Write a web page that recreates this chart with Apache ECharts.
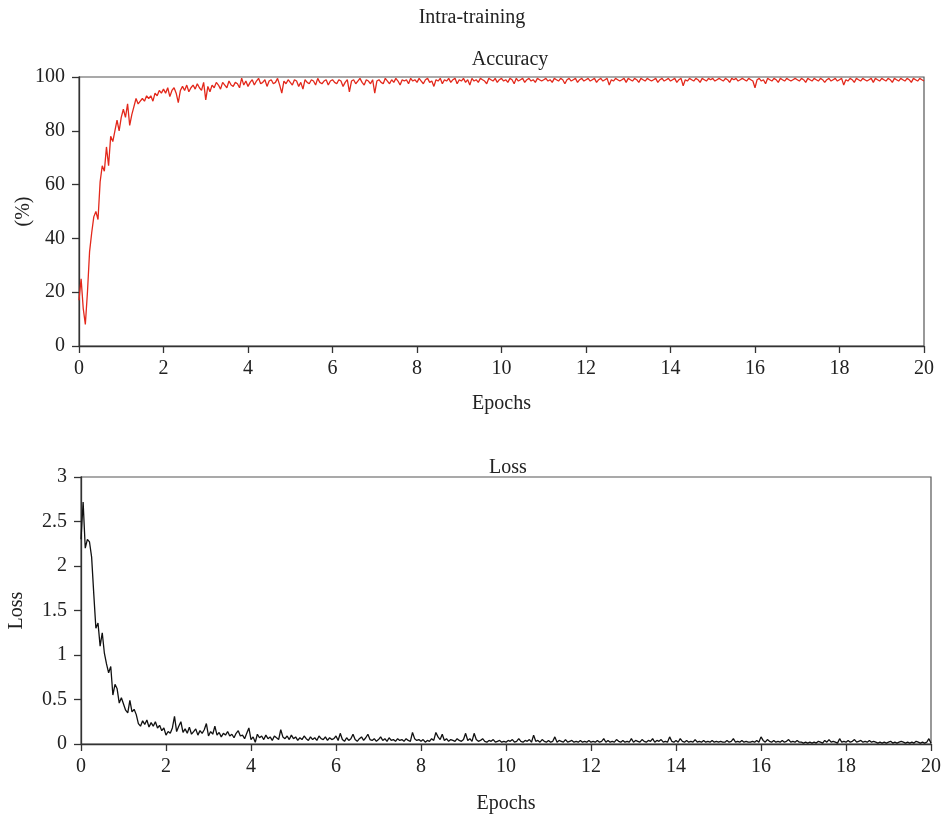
<!DOCTYPE html>
<html>
<head>
<meta charset="utf-8">
<script src="https://cdn.jsdelivr.net/npm/echarts@6/dist/echarts.min.js"></script>
<style>html,body{margin:0;padding:0;background:#fff;}#c{width:944px;height:818px;}</style>
</head>
<body>
<div id="c"></div>
<script>
// Sampling step of the curves (epochs between consecutive values)
const EPOCH_STEP = 0.05;
const xTicks = [0, 2, 4, 6, 8, 10, 12, 14, 16, 18, 20];
const accTicks = [0, 20, 40, 60, 80, 100];
const lossTicks = [0, 0.5, 1, 1.5, 2, 2.5, 3];

// Accuracy (%), one value every 0.05 epoch
const accuracy = [
  17, 25, 14, 8, 20, 35, 42, 48, 50, 47, 61, 67, 65, 74, 67, 78, 76, 80, 84, 80,
  85, 88, 85, 90, 82, 86, 89, 92, 90, 91, 92, 91, 93, 92, 93, 91, 94, 93, 95, 94,
  95.5, 94, 96, 92.7, 95, 96, 94, 90.5, 95, 96.5, 95, 97, 94.5, 96, 97, 95.5, 97.5, 96, 95, 98,
  91.5, 96.5, 94.5, 97, 96, 98, 97, 95.5, 98, 97, 96, 98.5, 97, 96.5, 98, 97.5, 96, 99.6, 97, 98.5,
  96.5, 98, 99, 97, 98.5, 99.5, 97.5, 98, 99, 96.5, 98.5, 99, 97.5, 98, 99.5, 97, 94, 98.5, 97.5, 99,
  98, 97, 99, 98.5, 96.5, 98, 95.5, 99, 98, 97.5, 99, 98.5, 97, 99.5, 98, 97.5, 98.5, 99, 97, 98.5,
  99, 98, 97.5, 99, 98.5, 96.5, 98, 99, 94.5, 98.5, 99, 97.5, 98.5, 99.5, 98, 97, 99, 98.5, 97.5, 99,
  94, 98.5, 99, 98, 97.5, 99.5, 98.5, 97.5, 99, 98, 99.5, 98.5, 97, 99, 98.5, 99, 97.5, 99.5, 98.5, 99,
  98, 99.5, 98.5, 97.5, 99, 99.5, 98, 98.5, 96.5, 99, 98.5, 99.5, 97.5, 99, 98.5, 99.5, 98, 99, 99.5, 97.5,
  99, 98.5, 99.5, 98, 99, 97, 99.5, 98.5, 99, 98, 99.5, 99, 98.5, 97.5, 99.5, 99, 98.5, 99.5, 98, 99,
  99.5, 98.5, 99, 98, 99.5, 99, 97.5, 99.5, 98.5, 99, 99.5, 98, 99, 99.5, 98.5, 99, 98, 99.5, 99, 98.5,
  99, 99.5, 98.5, 99, 98, 99.5, 99, 98.5, 99.5, 99, 97.5, 99, 99.5, 98.5, 99, 99.5, 98, 99, 99.5, 98.5,
  99, 99.5, 98.5, 99, 99.5, 98, 99, 99.5, 98.5, 99, 99.5, 97, 99, 98.5, 99.5, 99, 98.5, 99, 99.5, 98,
  99.5, 99, 98.5, 99.5, 99, 98, 99.5, 99, 98.5, 99.5, 99, 98.5, 99, 99.5, 98, 99, 99.5, 98.5, 99, 99.5,
  98.5, 99, 99.5, 98, 99, 99.5, 96.7, 99, 98.5, 99.5, 99, 98.5, 99.5, 99, 98, 99.5, 99, 98.5, 99.5, 99,
  99.5, 98.5, 99, 99.5, 99, 98.5, 99.5, 99, 98, 99.5, 99, 99.5, 98.5, 99, 99.5, 99, 98.5, 99.5, 99, 98.5,
  96, 99, 99.5, 98.5, 99, 97.5, 99.5, 99, 98.5, 99.5, 99, 98, 99.5, 99, 98.5, 99.5, 99, 98.5, 99, 99.5,
  99, 98.5, 99.5, 99, 98, 99.5, 99, 98.5, 99.5, 99, 98.5, 99.5, 99, 98, 99, 99.5, 98.5, 99, 99.5, 98.5,
  99, 99.5, 97, 99, 98.5, 99.5, 99, 98, 99.5, 99, 98.5, 99.5, 99, 98.5, 99, 99.5, 98, 99.5, 99, 98.5,
  99.5, 99, 98.5, 99.5, 99, 98, 99.5, 99, 98.5, 99.5, 99, 98.5, 99.5, 99, 98, 99.5, 99, 98.5, 99.5, 99, 98.5
];

// Loss, one value every 0.05 epoch
const loss = [
  2.3, 2.72, 2.2, 2.3, 2.27, 2.1, 1.69, 1.3, 1.36, 1.1, 1.25, 1.02, 0.9, 0.8, 0.87, 0.55, 0.67, 0.62, 0.46, 0.52,
  0.45, 0.38, 0.35, 0.49, 0.36, 0.39, 0.33, 0.23, 0.2, 0.26, 0.22, 0.27, 0.19, 0.24, 0.2, 0.25, 0.18, 0.21, 0.15, 0.18,
  0.1, 0.14, 0.12, 0.18, 0.31, 0.14, 0.2, 0.25, 0.13, 0.17, 0.12, 0.19, 0.11, 0.14, 0.17, 0.1, 0.15, 0.12, 0.16, 0.23,
  0.09, 0.14, 0.11, 0.2, 0.1, 0.13, 0.08, 0.12, 0.1, 0.14, 0.09, 0.11, 0.07, 0.12, 0.15, 0.09, 0.1, 0.06, 0.12, 0.18,
  0.05, 0.08, 0.02, 0.11, 0.07, 0.09, 0.05, 0.1, 0.06, 0.08, 0.04, 0.09, 0.07, 0.05, 0.16, 0.08, 0.06, 0.09, 0.05, 0.1,
  0.06, 0.08, 0.04, 0.07, 0.05, 0.09, 0.06, 0.04, 0.08, 0.05, 0.07, 0.04, 0.09, 0.06, 0.05, 0.08, 0.04, 0.07, 0.05, 0.06,
  0.09, 0.04, 0.12, 0.05, 0.03, 0.07, 0.04, 0.06, 0.11, 0.05, 0.03, 0.06, 0.08, 0.04, 0.07, 0.11, 0.05, 0.04, 0.06, 0.03,
  0.05, 0.08, 0.04, 0.06, 0.03, 0.07, 0.04, 0.05, 0.03, 0.06, 0.04, 0.05, 0.03, 0.06, 0.04, 0.03, 0.13, 0.06, 0.04, 0.05,
  0.03, 0.05, 0.02, 0.04, 0.03, 0.06, 0.04, 0.13, 0.08, 0.05, 0.11, 0.04, 0.06, 0.03, 0.05, 0.04, 0.03, 0.06, 0.04, 0.03,
  0.05, 0.12, 0.04, 0.06, 0.03, 0.12, 0.05, 0.03, 0.04, 0.06, 0.03, 0.02, 0.04, 0.03, 0.05, 0.02, 0.03, 0.04, 0.02, 0.03,
  0.02, 0.04, 0.03, 0.05, 0.02, 0.03, 0.06, 0.03, 0.02, 0.04, 0.03, 0.05, 0.02, 0.1, 0.03, 0.04, 0.02, 0.05, 0.03, 0.02,
  0.04, 0.02, 0.03, 0.08, 0.02, 0.04, 0.03, 0.02, 0.05, 0.02, 0.03, 0.04, 0.02, 0.03, 0.02, 0.04, 0.02, 0.03, 0.02, 0.04,
  0.02, 0.03, 0.02, 0.04, 0.02, 0.03, 0.06, 0.02, 0.04, 0.02, 0.03, 0.02, 0.05, 0.03, 0.02, 0.04, 0.02, 0.03, 0.02, 0.06,
  0.02, 0.04, 0.03, 0.02, 0.05, 0.03, 0.02, 0.04, 0.03, 0.06, 0.02, 0.04, 0.03, 0.05, 0.02, 0.03, 0.02, 0.08, 0.03, 0.02,
  0.04, 0.02, 0.06, 0.03, 0.02, 0.04, 0.02, 0.03, 0.02, 0.05, 0.02, 0.03, 0.02, 0.04, 0.02, 0.03, 0.02, 0.04, 0.02, 0.03,
  0.02, 0.03, 0.02, 0.02, 0.04, 0.02, 0.03, 0.06, 0.02, 0.03, 0.02, 0.04, 0.02, 0.03, 0.02, 0.02, 0.03, 0.02, 0.04, 0.02,
  0.08, 0.04, 0.02, 0.05, 0.03, 0.02, 0.04, 0.02, 0.03, 0.02, 0.04, 0.02, 0.03, 0.05, 0.02, 0.03, 0.02, 0.04, 0.02, 0.02,
  0.01, 0.02, 0.01, 0.02, 0.01, 0.02, 0.01, 0.03, 0.02, 0.01, 0.04, 0.02, 0.05, 0.02, 0.03, 0.02, 0.01, 0.06, 0.02, 0.03,
  0.02, 0.04, 0.02, 0.03, 0.05, 0.02, 0.03, 0.04, 0.02, 0.03, 0.02, 0.04, 0.02, 0.03, 0.02, 0.01, 0.02, 0.01, 0.02, 0.01,
  0.02, 0.03, 0.01, 0.02, 0.01, 0.02, 0.03, 0.02, 0.01, 0.02, 0.01, 0.02, 0.01, 0.03, 0.02, 0.01, 0.02, 0.01, 0.02, 0.06, 0.01
];

const FONT = '"Liberation Serif", "DejaVu Serif", serif';
const AX = '#333';
const toPairs = arr => arr.map((v, i) => [+(i * EPOCH_STEP).toFixed(2), v]);

function xAxisCfg(gridIndex, gap) {
  return {
    type: 'value', gridIndex, min: xTicks[0], max: xTicks[xTicks.length - 1],
    interval: xTicks[1] - xTicks[0],
    name: 'Epochs', nameLocation: 'middle', nameGap: gap,
    nameTextStyle: { fontFamily: FONT, fontSize: 20, color: '#222' },
    axisLine: { show: true, lineStyle: { color: AX, width: 1.3 } },
    axisTick: { show: true, inside: false, length: 7, lineStyle: { color: AX, width: 1.3 } },
    axisLabel: { fontFamily: FONT, fontSize: 20, color: '#222', margin: 13 },
    splitLine: { show: false }
  };
}
function yAxisCfg(gridIndex, ticks, name, gap) {
  return {
    type: 'value', gridIndex, min: ticks[0], max: ticks[ticks.length - 1],
    interval: ticks[1] - ticks[0],
    name, nameLocation: 'middle', nameGap: gap, nameRotate: 90, nameMoveOverlap: false,
    nameTextStyle: { fontFamily: FONT, fontSize: 20, color: '#222' },
    axisLine: { show: true, lineStyle: { color: AX, width: 1.3 } },
    axisTick: { show: true, inside: false, length: 7, lineStyle: { color: AX, width: 1.3 } },
    axisLabel: { fontFamily: FONT, fontSize: 20, color: '#222', margin: 14 },
    splitLine: { show: false }
  };
}

const chart = echarts.init(document.getElementById('c'), null, { renderer: 'canvas' });
chart.setOption({
  animation: false,
  backgroundColor: '#fff',
  title: [
    { text: 'Intra-training', left: 'center', top: 3, textStyle: { fontFamily: FONT, fontSize: 20, fontWeight: 'normal', color: '#222' } },
    { text: 'Accuracy', left: 505, top: 45, textAlign: 'center', textStyle: { fontFamily: FONT, fontSize: 20, fontWeight: 'normal', color: '#222' } },
    { text: 'Loss', left: 503, top: 453, textAlign: 'center', textStyle: { fontFamily: FONT, fontSize: 20, fontWeight: 'normal', color: '#222' } }
  ],
  grid: [
    { left: 79, right: 20, top: 77, height: 269, show: true, borderColor: '#555', borderWidth: 1.2,
      backgroundColor: 'transparent', containLabel: false, outerBoundsMode: 'none' },
    { left: 81, right: 13, top: 477, height: 267, show: true, borderColor: '#555', borderWidth: 1.2,
      backgroundColor: 'transparent', containLabel: false, outerBoundsMode: 'none' }
  ],
  xAxis: [xAxisCfg(0, 48), xAxisCfg(1, 50)],
  yAxis: [yAxisCfg(0, accTicks, '(%)', 45), yAxisCfg(1, lossTicks, 'Loss', 54)],
  series: [
    { type: 'line', xAxisIndex: 0, yAxisIndex: 0, data: toPairs(accuracy), showSymbol: false, symbol: 'none',
      lineStyle: { color: '#e3281b', width: 1.3 }, sampling: null, z: 3 },
    { type: 'line', xAxisIndex: 1, yAxisIndex: 1, data: toPairs(loss), showSymbol: false, symbol: 'none',
      lineStyle: { color: '#111', width: 1.3 }, sampling: null, z: 3 }
  ]
});
</script>
</body>
</html>
